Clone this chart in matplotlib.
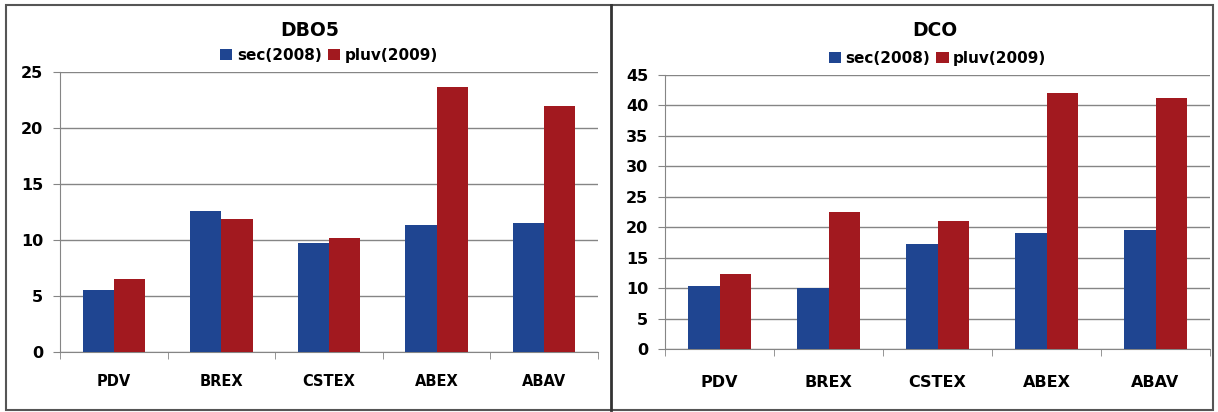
import matplotlib.pyplot as plt
import numpy as np
from matplotlib.lines import Line2D
from matplotlib.patches import Rectangle

plt.rcParams['font.family'] = ['DejaVu Sans']
plt.rcParams['font.weight'] = 'bold'

# data
stations = ["PDV", "BREX", "CSTEX", "ABEX", "ABAV"]
dbo5_sec = [5.5, 12.6, 9.7, 11.3, 11.5]
dbo5_pluv = [6.5, 11.9, 10.15, 23.7, 22.0]
dco_sec = [10.4, 10.1, 17.3, 19.1, 19.6]
dco_pluv = [12.3, 22.5, 21.1, 42.1, 41.3]
series_names = ["sec(2008)", "pluv(2009)"]

blue = "#1F4591"
red = "#A2191F"
grid_c = "#858585"

W, H = 1218, 412
fig = plt.figure(figsize=(W / 100, H / 100), dpi=100)

def px_axes(l, t, r, b):
    return fig.add_axes([l / W, 1 - b / H, (r - l) / W, (b - t) / H])

def draw(ax, sec, pluv, ymax, step, xfs, xpad, yfs):
    x = np.arange(len(stations))
    w = 0.29
    ax.bar(x - w / 2, sec, w, color=blue, label=series_names[0], zorder=3)
    ax.bar(x + w / 2, pluv, w, color=red, label=series_names[1], zorder=3)
    ax.set_xlim(-0.5, len(stations) - 0.5)
    ax.set_ylim(0, ymax)
    ax.set_yticks(np.arange(0, ymax + 1, step))
    ax.yaxis.grid(True, color=grid_c, linewidth=1, zorder=0)
    ax.set_xticks(x)
    ax.set_xticklabels(stations, fontsize=xfs, fontweight='bold')
    ax.set_xticks(np.arange(-0.5, len(stations)), minor=True)
    ax.tick_params(axis='x', which='major', length=0, pad=xpad)
    ax.tick_params(axis='x', which='minor', length=5, color=grid_c, direction='out')
    ax.tick_params(axis='y', length=5, color=grid_c, labelsize=yfs, pad=7)
    for lab in ax.get_yticklabels():
        lab.set_fontweight('bold')
    for s in ['top', 'right']:
        ax.spines[s].set_visible(False)
    for s in ['left', 'bottom']:
        ax.spines[s].set_color(grid_c)
    ax.legend(loc='lower center', bbox_to_anchor=(0.5, 1.0), ncol=2, frameon=False,
              handlelength=0.8, handleheight=0.8, handletextpad=0.3, columnspacing=0.4,
              prop={'size': 11, 'weight': 'bold'}, borderaxespad=0.2)

ax1 = px_axes(60, 72, 598, 352)
draw(ax1, dbo5_sec, dbo5_pluv, 25, 5, 10.5, 16, 11.5)
ax2 = px_axes(665, 75, 1210, 349)
draw(ax2, dco_sec, dco_pluv, 45, 5, 11.5, 19, 11.5)

fig.text(310 / W, 1 - 30 / H, "DBO5", ha='center', va='center', fontsize=13.5, fontweight='bold')
fig.text(935 / W, 1 - 30 / H, "DCO", ha='center', va='center', fontsize=13.5, fontweight='bold')

# panel frames
fig.patches.append(Rectangle((6 / W, 1 - 410 / H), (1213 - 6) / W, (410 - 5) / H,
                             transform=fig.transFigure, fill=False, edgecolor="#555555", linewidth=1.5))
fig.lines.append(Line2D([611 / W, 611 / W], [1 - 410 / H, 1 - 5 / H], transform=fig.transFigure,
                        color="#333333", linewidth=2))

fig.savefig("out.png", dpi=100)
